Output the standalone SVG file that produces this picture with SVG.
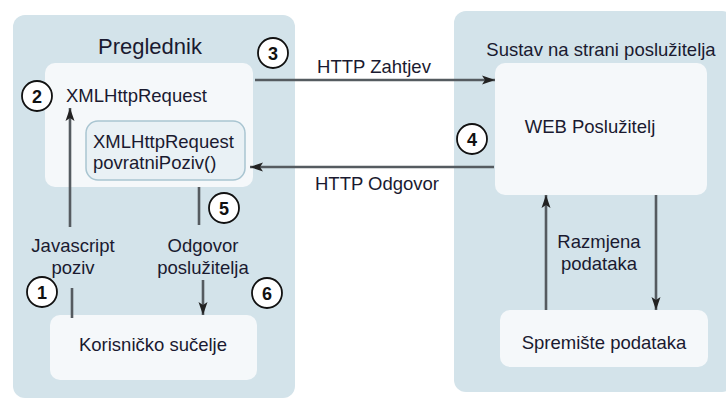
<svg xmlns="http://www.w3.org/2000/svg" width="726" height="401" viewBox="0 0 726 401">
<defs>
<marker id="ah" markerUnits="userSpaceOnUse" markerWidth="14" markerHeight="10" refX="13" refY="5" orient="auto">
<path d="M0,0.5 L13,5 L0,9.5 L3,5 Z" fill="#222"/>
</marker>
<style>
text{font-family:"Liberation Sans",Arial,sans-serif;fill:#1a1a30;font-size:18.5px}
.c{text-anchor:middle}
.cont{fill:#d3e3ea}
.box{fill:#f5f8fa}
.ln{stroke:#555b60;stroke-width:2.6;fill:none}
.ar{marker-end:url(#ah)}
.num circle{fill:#fff;stroke:#111;stroke-width:1.8}
.num text{font-size:18px;font-weight:bold;text-anchor:middle;fill:#111}
</style>
</defs>
<rect width="726" height="401" fill="#fff"/>
<g id="browser">
<rect class="cont" x="13" y="15" width="282" height="383" rx="12"/>
<text class="c" x="150" y="54" style="font-size:22px">Preglednik</text>
</g>
<g id="server-system">
<rect class="cont" x="454" y="11" width="280" height="381" rx="12"/>
<text class="c" x="601" y="56">Sustav na strani poslužitelja</text>
</g>
<g id="xhr">
<rect class="box" x="45" y="63" width="208" height="124" rx="10"/>
<text x="66" y="102">XMLHttpRequest</text>
</g>
<g id="callback">
<rect x="86" y="121" width="159" height="59" rx="12" fill="#e9f1f5" stroke="#a9c5d1" stroke-width="1.5"/>
<text x="93" y="148">XMLHttpRequest</text>
<text x="93" y="169">povratniPoziv()</text>
</g>
<g id="ui">
<rect class="box" x="50" y="315" width="207" height="65" rx="10"/>
<text class="c" x="153" y="351">Korisničko sučelje</text>
</g>
<g id="web-server">
<rect class="box" x="495" y="63" width="212" height="132" rx="10"/>
<text class="c" x="590" y="133">WEB Poslužitelj</text>
</g>
<g id="storage">
<rect class="box" x="500" y="310" width="208" height="57" rx="10"/>
<text class="c" x="604" y="349">Spremište podataka</text>
</g>
<g id="connectors">
<line class="ln ar" x1="255" y1="80" x2="495" y2="80"/>
<text class="c" x="374" y="73">HTTP Zahtjev</text>
<line class="ln ar" x1="494" y1="167" x2="250" y2="167"/>
<text class="c" x="377" y="190">HTTP Odgovor</text>
<line class="ln" x1="72" y1="318" x2="72" y2="288"/>
<line class="ln ar" x1="70" y1="227" x2="70" y2="108"/>
<text class="c" x="73" y="252">Javascript</text>
<text class="c" x="73" y="274">poziv</text>
<line class="ln" x1="199" y1="187" x2="199" y2="225"/>
<line class="ln ar" x1="203" y1="280" x2="203" y2="315"/>
<text class="c" x="203" y="252">Odgovor</text>
<text class="c" x="203" y="274">poslužitelja</text>
<line class="ln ar" x1="546" y1="310" x2="546" y2="195"/>
<line class="ln ar" x1="656" y1="195" x2="656" y2="310"/>
<text class="c" x="599" y="248">Razmjena</text>
<text class="c" x="599" y="270">podataka</text>
</g>
<g id="n1" class="num"><circle cx="42" cy="292" r="15"/><text x="42" y="298.5">1</text></g>
<g id="n2" class="num"><circle cx="37" cy="96" r="15"/><text x="37" y="102.5">2</text></g>
<g id="n3" class="num"><circle cx="273" cy="53" r="15"/><text x="273" y="59.5">3</text></g>
<g id="n4" class="num"><circle cx="472" cy="139" r="15"/><text x="472" y="145.5">4</text></g>
<g id="n5" class="num"><circle cx="224" cy="208" r="15"/><text x="224" y="214.5">5</text></g>
<g id="n6" class="num"><circle cx="267" cy="293" r="15"/><text x="267" y="299.5">6</text></g>
</svg>
